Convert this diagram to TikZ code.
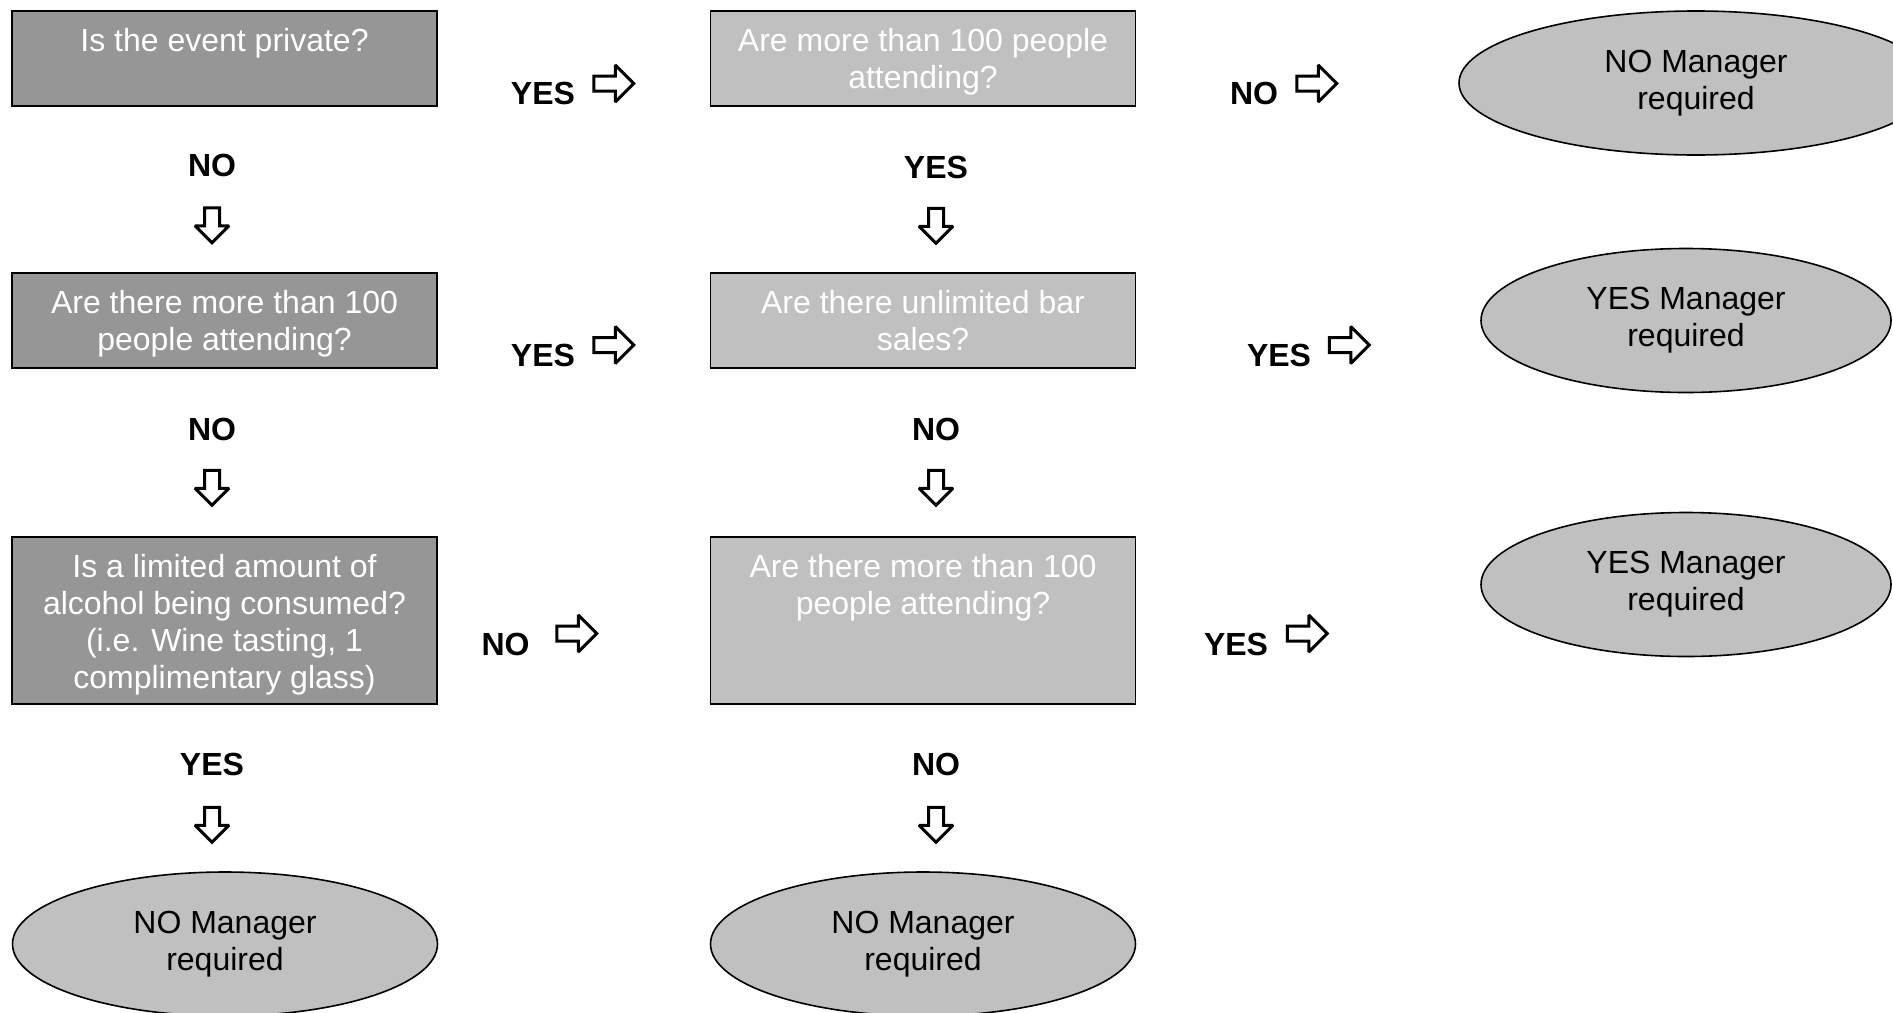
\documentclass[tikz,border=0pt]{standalone}
\usepackage{fontspec}
\setmainfont{Liberation Sans}
\usepackage{xcolor}
\usepackage{tikz}
\usetikzlibrary{shapes.geometric}
\usetikzlibrary{shapes.arrows}

\definecolor{qdark}{RGB}{150,150,150}
\definecolor{qlight}{RGB}{192,192,192}
\newcommand{\qfont}{\fontsize{16}{18.5}\selectfont}
\newcommand{\qtext}[2]{\parbox[c][#1][t]{212.5pt}{\centering\vspace*{8.5pt}#2}}

\begin{document}
\begin{tikzpicture}[x=0.5pt, y=-0.5pt,
    qbox/.style={draw=black, line width=0.8pt, inner sep=0pt, text=white, font=\qfont},
    darkq/.style={qbox, fill=qdark},
    lightq/.style={qbox, fill=qlight},
    answer/.style={ellipse, draw=black, line width=0.8pt, fill=qlight, inner sep=0pt,
        align=center, font=\qfont, minimum height=72pt},
    lbl/.style={font=\qfont\bfseries, inner sep=0pt},
    rarrow/.style={single arrow, draw=black, line width=1.5pt, miter limit=1.5, fill=white,
        inner sep=3pt, minimum height=20pt, single arrow head extend=5.5pt},
    darrow/.style={rarrow, shape border rotate=270, minimum height=17.5pt,
        single arrow head extend=4.75pt}]
    \useasboundingbox (0,0) rectangle (1893,1012);
    \clip (0,0) rectangle (1893,1012);

    % questions
    \node[darkq] (q1) at (224.5,58.5) {\qtext{47.5pt}{Is the event private?}};
    \node[darkq] (q2) at (224.5,320.5) {\qtext{47.5pt}{Are there more than 100\\people attending?}};
    \node[darkq] (q3) at (224.5,620.5) {\qtext{83.5pt}{Is a limited amount of\\alcohol being consumed?\\(i.e. Wine tasting, 1\\complimentary glass)}};
    \node[lightq] (m1) at (923,58.5) {\qtext{47.5pt}{Are more than 100 people\\attending?}};
    \node[lightq] (m2) at (923,320.5) {\qtext{47.5pt}{Are there unlimited bar\\sales?}};
    \node[lightq] (m3) at (923,620.5) {\qtext{83.5pt}{Are there more than 100\\people attending?}};

    % outcomes
    \node[answer, minimum width=237pt] (a1) at (1696,83) {NO Manager\\required};
    \node[answer, minimum width=205pt] (a2) at (1686,320.5) {YES Manager\\required};
    \node[answer, minimum width=205pt] (a3) at (1686,584.5) {YES Manager\\required};
    \node[answer, minimum width=212.5pt] (a4) at (225,944) {NO Manager\\required};
    \node[answer, minimum width=212.5pt] (a5) at (923,944) {NO Manager\\required};

    % sideways answers
    \node[lbl] (yes1) at (543,93.5) {YES};
    \node[rarrow] (ar1) at (610,83.5) {};
    \node[lbl] (no1) at (1254,93.5) {NO};
    \node[rarrow] (ar2) at (1313,83.5) {};
    \node[lbl] (yes2) at (543,355) {YES};
    \node[rarrow] (ar3) at (610,345) {};
    \node[lbl] (yes3) at (1279,355) {YES};
    \node[rarrow] (ar4) at (1345.5,345) {};
    \node[lbl] (no2) at (505.5,644) {NO};
    \node[rarrow] (ar5) at (573,633.5) {};
    \node[lbl] (yes4) at (1236,644) {YES};
    \node[rarrow] (ar6) at (1303.5,633.5) {};

    % downward answers
    \node[lbl] (no3) at (212,165) {NO};
    \node[darrow] (ad1) at (212,221.5) {};
    \node[lbl] (no4) at (212,429) {NO};
    \node[darrow] (ad2) at (212,484) {};
    \node[lbl] (yes5) at (212,764) {YES};
    \node[darrow] (ad3) at (212,821) {};
    \node[lbl] (yes6) at (936,167) {YES};
    \node[darrow] (ad4) at (936,222) {};
    \node[lbl] (no5) at (936,429) {NO};
    \node[darrow] (ad5) at (936,484) {};
    \node[lbl] (no6) at (936,764) {NO};
    \node[darrow] (ad6) at (936,821) {};
\end{tikzpicture}
\end{document}
